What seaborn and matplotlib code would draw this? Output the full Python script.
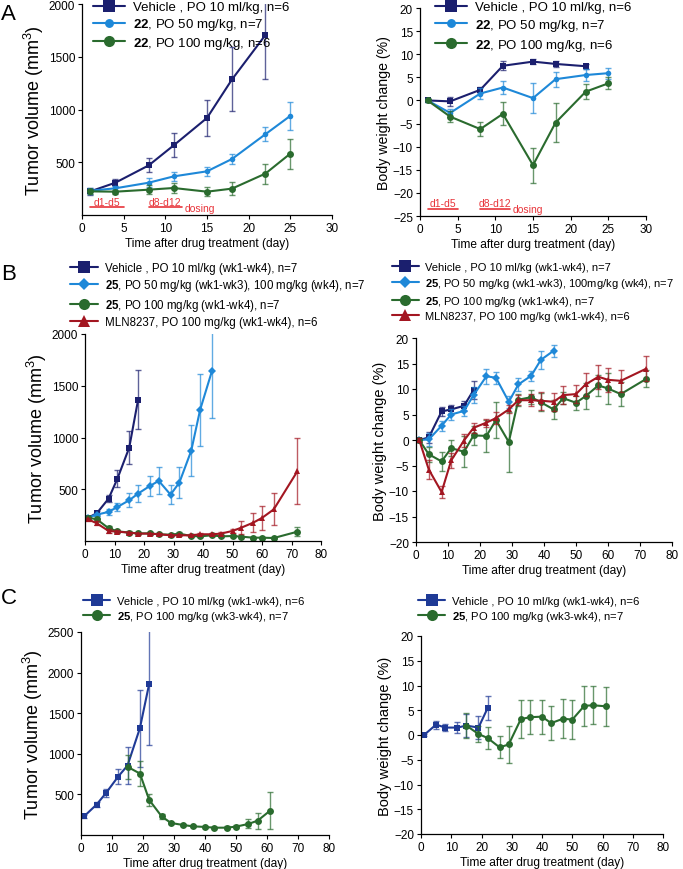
import numpy as np
import pandas as pd
import matplotlib
matplotlib.use("Agg")
import matplotlib.pyplot as plt
import seaborn as sns

sns.set_theme(style="ticks")
plt.rcParams["font.family"] = ["Liberation Sans", "DejaVu Sans"]
plt.rcParams["mathtext.fontset"] = "custom"
plt.rcParams["mathtext.rm"] = "Liberation Sans"
plt.rcParams["mathtext.bf"] = "Liberation Sans:bold"
plt.rcParams["mathtext.it"] = "Liberation Sans:italic"
plt.rcParams.update({"axes.edgecolor": "black", "xtick.color": "black", "ytick.color": "black",
                     "text.color": "black", "axes.labelcolor": "black"})

NAVY = "#1b1f6e"
BLUE = "#1e88d8"
GREEN = "#2a6b2e"
RED = "#a31621"
ROYAL = "#1f3a96"
ANNO = "#e8343a"

# ---- Panel A ----
a_days_veh = [1, 4, 8, 11, 15, 18, 22]
a_days = [1, 4, 8, 11, 15, 18, 22, 25]
a_tv_veh = [224, 306, 470, 660, 920, 1285, 1705]
a_tv_veh_err = [30, 35, 66, 114, 170, 303, 420]
a_tv_50 = [230, 253, 306, 366, 414, 531, 765, 940]
a_tv_50_err = [30, 25, 40, 40, 45, 47, 68, 130]
a_tv_100 = [224, 221, 240, 256, 221, 250, 392, 582]
a_tv_100_err = [25, 20, 40, 46, 40, 63, 95, 142]

a_bw_veh = [0, -0.2, 2.3, 7.5, 8.4, 7.9, 7.4]
a_bw_veh_err = [0.3, 1.0, 0.7, 1.0, 0.5, 0.6, 0.5]
a_bw_50 = [0, -2.7, 1.5, 2.8, 0.5, 4.6, 5.5, 5.9]
a_bw_50_err = [0.3, 0.8, 1.2, 1.4, 3.2, 1.6, 1.2, 1.2]
a_bw_100 = [0, -3.5, -6.2, -2.9, -14.0, -4.8, 1.9, 3.7]
a_bw_100_err = [0.3, 1.2, 1.5, 2.5, 3.8, 4.2, 1.6, 1.3]

a_labels = ["Vehicle , PO 10 ml/kg, n=6",
            r"$\mathbf{22}$, PO 50 mg/kg, n=7",
            r"$\mathbf{22}$, PO 100 mg/kg, n=6"]

# dosing windows (days)
dose_windows = [(1, 5), (8, 12)]
dose_texts = ["d1-d5", "d8-d12"]

# ---- Panel B ----
b_days_veh = [1, 4, 8, 11, 15, 18]
b_days_lo = [1, 4, 8, 11, 15, 18, 22, 25, 29, 32, 36, 39, 43]
b_days_long = [1, 4, 8, 11, 15, 18, 22, 25, 29, 32, 36, 39, 43, 46, 50, 53, 57, 60, 64, 72]

b_tv_veh = [225, 268, 410, 603, 903, 1365]
b_tv_veh_err = [20, 25, 30, 80, 160, 283]
b_tv_25lo = [225, 255, 281, 329, 394, 458, 532, 581, 448, 565, 871, 1265, 1639]
b_tv_25lo_err = [20, 10, 30, 40, 65, 85, 95, 130, 95, 150, 245, 345, 450]
b_tv_25hi = [225, 210, 123, 94, 81, 74, 74, 65, 61, 71, 48, 45, 55, 45, 48, 42, 32, 32, 29, 90]
b_tv_25hi_err = [15, 15, 20, 15, 12, 10, 12, 10, 10, 12, 10, 8, 10, 8, 10, 10, 8, 8, 8, 45]
b_tv_mln = [210, 171, 97, 90, 81, 71, 71, 65, 55, 55, 55, 65, 65, 71, 97, 129, 177, 223, 306, 674]
b_tv_mln_err = [15, 20, 15, 12, 10, 10, 10, 10, 8, 8, 8, 10, 10, 12, 20, 60, 90, 115, 155, 320]

b_bw_veh = [0, 0.5, 5.6, 6.0, 6.7, 9.8]
b_bw_veh_err = [0.3, 1.0, 0.8, 0.8, 1.0, 1.8]
b_bw_25lo = [0, 0.1, 2.8, 5.0, 5.7, 8.8, 12.5, 12.2, 7.5, 10.9, 12.6, 15.7, 17.5]
b_bw_25lo_err = [0.3, 1.3, 1.0, 1.0, 1.0, 1.5, 1.5, 1.2, 1.2, 1.3, 1.0, 1.8, 1.2]
b_bw_25hi = [0, -2.8, -4.2, -1.6, -2.3, 0.9, 0.8, 3.9, -0.4, 7.9, 8.4, 7.4, 6.0, 8.2, 7.3, 8.6, 10.7, 10.1, 9.0, 12.0]
b_bw_25hi_err = [0.3, 1.5, 1.8, 1.6, 3.0, 1.8, 3.2, 3.6, 5.8, 1.2, 1.4, 1.8, 1.8, 1.2, 1.4, 2.5, 2.0, 3.0, 2.4, 1.7]
b_bw_mln = [0, -5.8, -10.2, -4.0, -0.1, 2.4, 3.4, 4.3, 6.0, 7.8, 7.8, 7.7, 7.5, 8.8, 9.0, 10.9, 12.4, 11.8, 11.6, 14.0]
b_bw_mln_err = [0.3, 1.8, 1.2, 1.5, 1.2, 1.0, 0.8, 1.1, 0.8, 1.0, 1.2, 1.8, 1.8, 1.8, 1.8, 2.2, 2.4, 2.4, 2.2, 2.5]

b_labels_left = ["Vehicle , PO 10 ml/kg (wk1-wk4), n=7",
                 r"$\mathbf{25}$, PO 50 mg/kg (wk1-wk3), 100 mg/kg (wk4), n=7",
                 r"$\mathbf{25}$, PO 100 mg/kg (wk1-wk4), n=7",
                 "MLN8237, PO 100 mg/kg (wk1-wk4), n=6"]
b_labels_right = ["Vehicle , PO 10 ml/kg (wk1-wk4), n=7",
                  r"$\mathbf{25}$, PO 50 mg/kg (wk1-wk3), 100mg/kg (wk4), n=7",
                  r"$\mathbf{25}$, PO 100 mg/kg (wk1-wk4), n=7",
                  "MLN8237, PO 100 mg/kg (wk1-wk4), n=6"]

# ---- Panel C ----
c_days_veh = [1, 5, 8, 12, 15, 19, 22]
c_days_25 = [15, 19, 22, 26, 29, 33, 36, 40, 43, 47, 50, 54, 57, 61]
c_tv_veh = [230, 374, 514, 720, 855, 1316, 1863]
c_tv_veh_err = [20, 30, 50, 90, 230, 475, 750]
c_tv_25 = [840, 757, 432, 230, 148, 123, 107, 99, 90, 90, 103, 136, 177, 300]
c_tv_25_err = [150, 150, 70, 30, 15, 15, 10, 10, 10, 15, 20, 55, 100, 230]

c_bw_veh = [0, 2.1, 1.5, 1.5, 1.9, 1.5, 5.4]
c_bw_veh_err = [0.3, 0.8, 0.7, 1.1, 2.3, 2.3, 2.4]
c_bw_25 = [1.9, 0.2, -0.6, -2.5, -1.9, 3.2, 3.6, 3.7, 2.4, 3.3, 3.1, 5.9, 6.0, 5.8]
c_bw_25_err = [2.6, 1.6, 2.3, 2.2, 3.7, 3.8, 3.4, 3.4, 3.4, 3.9, 3.9, 4.0, 3.8, 3.9]

c_labels = ["Vehicle , PO 10 ml/kg (wk1-wk4), n=6",
            r"$\mathbf{25}$, PO 100 mg/kg (wk3-wk4), n=7"]

TV_LABEL = "Tumor volume (mm$^3$)"
BW_LABEL = "Body weight change (%)"
X_LABEL = "Time after drug treatment (day)"

W, H = 683, 870
fig = plt.figure(figsize=(W / 100, H / 100), dpi=100)


def axes_px(x0, x1, ytop, ybot):
    return fig.add_axes([x0 / W, 1 - ybot / H, (x1 - x0) / W, (ybot - ytop) / H])


def draw(ax, x, y, err, color, marker, label, ms=5):
    df = pd.DataFrame({"day": x, "val": y})
    sns.lineplot(data=df, x="day", y="val", ax=ax, color=color, marker=marker,
                 markersize=ms, markeredgewidth=0, linewidth=1.5, label=label, legend=False)
    ax.errorbar(x, y, yerr=err, fmt="none", ecolor=color, elinewidth=1, capsize=2,
                capthick=1, alpha=0.7)


def style(ax, xmax, xstep, ylim, yticks, ylabel, xlabel, ylab_size):
    sns.despine(ax=ax)
    ax.set_xlim(0, xmax)
    ax.set_ylim(*ylim)
    ax.set_xticks(np.arange(0, xmax + 1, xstep))
    ax.set_yticks(yticks)
    ax.tick_params(labelsize=8.5, length=3, width=0.8, pad=2)
    ax.set_xlabel(xlabel, fontsize=8.6, labelpad=2)
    ax.set_ylabel(ylabel, fontsize=ylab_size, labelpad=1.5)
    for s in ax.spines.values():
        s.set_linewidth(0.9)


def legend(ax, xpx, ypx, fs=8, sp=0.35):
    h, l = ax.get_legend_handles_labels()
    ax.legend(h, l, loc="upper left", bbox_to_anchor=(xpx / W, 1 - ypx / H),
              bbox_transform=fig.transFigure, frameon=False, fontsize=fs,
              markerscale=1.6, handlelength=2.4, handletextpad=0.6,
              labelspacing=sp, borderpad=0, borderaxespad=0)


def dosing(ax, yline, ytext, ydose):
    for (d0, d1), t in zip(dose_windows, dose_texts):
        ax.plot([d0, d1], [yline, yline], color=ANNO, lw=1.2)
        ax.text((d0 + d1) / 2, ytext, t, color=ANNO, fontsize=7.5, ha="center", va="center")
    ax.text(dose_windows[-1][1] + 0.3, ydose, "dosing", color=ANNO, fontsize=7.5,
            ha="left", va="center")


# A left
ax = axes_px(82, 332, 5, 216)
draw(ax, a_days_veh, a_tv_veh, a_tv_veh_err, NAVY, "s", a_labels[0])
draw(ax, a_days, a_tv_50, a_tv_50_err, BLUE, "o", a_labels[1], ms=4)
draw(ax, a_days, a_tv_100, a_tv_100_err, GREEN, "o", a_labels[2])
style(ax, 30, 5, (0, 2000), [500, 1000, 1500, 2000], TV_LABEL, X_LABEL, 13)
dosing(ax, 73, 125, 66)
legend(ax, 93, 2, fs=9.5, sp=0.22)

# A right
ax = axes_px(420, 646, 9, 217)
draw(ax, a_days_veh, a_bw_veh, a_bw_veh_err, NAVY, "s", a_labels[0])
draw(ax, a_days, a_bw_50, a_bw_50_err, BLUE, "o", a_labels[1], ms=4)
draw(ax, a_days, a_bw_100, a_bw_100_err, GREEN, "o", a_labels[2])
style(ax, 30, 5, (-25, 20), np.arange(-25, 21, 5), BW_LABEL,
      "Time after durg treatment (day)", 10.2)
dosing(ax, -23.5, -22.1, -23.4)
legend(ax, 435, 2, fs=9.5, sp=0.28)

# B left
ax = axes_px(85, 321, 335, 542)
draw(ax, b_days_veh, b_tv_veh, b_tv_veh_err, NAVY, "s", b_labels_left[0])
draw(ax, b_days_lo, b_tv_25lo, b_tv_25lo_err, BLUE, "D", b_labels_left[1], ms=4)
draw(ax, b_days_long, b_tv_25hi, b_tv_25hi_err, GREEN, "o", b_labels_left[2])
draw(ax, b_days_long, b_tv_mln, b_tv_mln_err, RED, "^", b_labels_left[3])
style(ax, 80, 10, (0, 2000), [500, 1000, 1500, 2000], TV_LABEL, X_LABEL, 13)
legend(ax, 70, 263, fs=8.3, sp=0.3)

# B right
ax = axes_px(416, 672, 339, 543)
draw(ax, b_days_veh, b_bw_veh, b_bw_veh_err, NAVY, "s", b_labels_right[0])
draw(ax, b_days_lo, b_bw_25lo, b_bw_25lo_err, BLUE, "D", b_labels_right[1], ms=4)
draw(ax, b_days_long, b_bw_25hi, b_bw_25hi_err, GREEN, "o", b_labels_right[2])
draw(ax, b_days_long, b_bw_mln, b_bw_mln_err, RED, "^", b_labels_right[3])
style(ax, 80, 10, (-20, 20), np.arange(-20, 21, 5), BW_LABEL, X_LABEL, 10.5)
legend(ax, 392, 263, fs=8.0, sp=0.34)

# C left
ax = axes_px(81, 329, 633, 836)
draw(ax, c_days_veh, c_tv_veh, c_tv_veh_err, ROYAL, "s", c_labels[0])
draw(ax, c_days_25, c_tv_25, c_tv_25_err, GREEN, "o", c_labels[1])
style(ax, 80, 10, (0, 2500), [500, 1000, 1500, 2000, 2500], TV_LABEL, X_LABEL, 13)
legend(ax, 83, 597, fs=8.1, sp=0.3)

# C right
ax = axes_px(421, 663, 637, 835)
draw(ax, c_days_veh, c_bw_veh, c_bw_veh_err, ROYAL, "s", c_labels[0])
draw(ax, c_days_25, c_bw_25, c_bw_25_err, GREEN, "o", c_labels[1])
style(ax, 80, 10, (-20, 20), np.arange(-20, 21, 5), BW_LABEL, X_LABEL, 10.5)
legend(ax, 418, 597, fs=8.1, sp=0.3)

for lbl, ypx in zip(["A", "B", "C"], [14, 274, 598]):
    fig.text(1 / W, 1 - ypx / H, lbl, fontsize=16, ha="left", va="center")

fig.savefig("out.png", dpi=100)
